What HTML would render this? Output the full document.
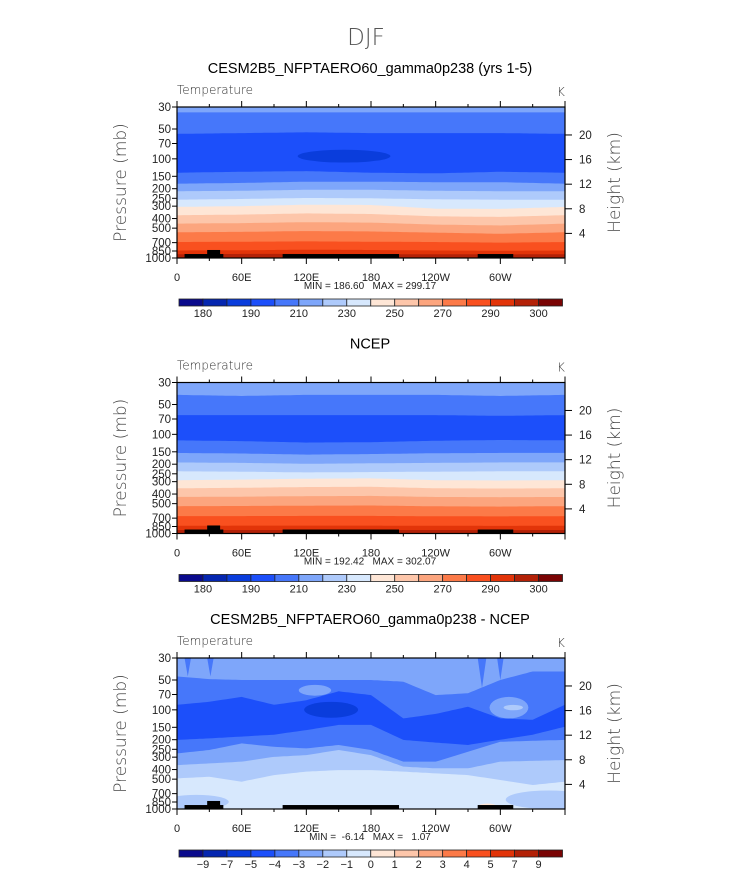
<!DOCTYPE html>
<html><head><meta charset="utf-8"><style>
html,body{margin:0;padding:0;background:#fff;}
svg{display:block;font-family:"Liberation Sans",sans-serif;}
</style></head><body>
<svg id="fig" width="733" height="873" viewBox="0 0 733 873" xmlns="http://www.w3.org/2000/svg">
<text x="366" y="45" font-size="23" text-anchor="middle" fill="#555" style="font-family:'DejaVu Sans','Liberation Sans',sans-serif;font-weight:200">DJF</text>
</svg>
<script>
// ---------- data ----------
const palette = ["#0a0a8c","#0526b0","#0a3ddc","#1c4ffa","#4677fa","#7ea6fa","#aecafb","#d7e8fd","#fee6d6","#fdc6aa","#fca57e","#fc7a48","#f9501f","#e23409","#b32107","#7a0404"];
const pressureTicks = [30,50,70,100,150,200,250,300,400,500,700,850,1000];
const heightTicks = [4,8,12,16,20];
const lonTicks = [0,60,120,180,240,300];
const lonTickLabels = ["0","60E","120E","180","120W","60W"];
const tempBarLabels = ["180","190","210","230","250","270","290","300"];
const diffBarLabels = ["-9","-7","-5","-4","-3","-2","-1","0","1","2","3","4","5","7","9"];
const panelTitles = ["CESM2B5_NFPTAERO60_gamma0p238 (yrs 1-5)","NCEP","CESM2B5_NFPTAERO60_gamma0p238 - NCEP"];
const minMaxLabels = ["MIN = 186.60   MAX = 299.17","MIN = 192.42   MAX = 302.07","MIN =  -6.14   MAX =   1.07"];
// panel 1 & 2 : boundary pressures at lon nodes
const bandLons = [0,60,120,180,240,300,360];
const p1Colors = [5,4,3,4,5,6,7,8,9,10,11,12,13,14];
const p1Bounds = [
 [34,34,34,34,34,34,34],[56,55,54,55,55,55,56],[138,135,133,138,140,135,138],
 [178,175,170,170,172,172,178],[212,210,205,205,210,212,212],[258,254,248,250,256,258,258],
 [305,300,290,292,318,320,305],[370,365,355,360,380,385,370],[450,445,435,440,460,470,450],
 [550,545,535,540,555,570,550],[690,685,680,685,690,700,690],[840,835,825,830,840,845,840],
 [915,910,910,915,915,920,915]];
const p1Blobs = [[155,43,81,109,2]];
const p2Colors = [5,4,3,4,5,6,7,8,9,10,11,12,13,14];
const p2Bounds = [
 [40,41,40,40,40,41,40],[64,64,64,64,64,65,64],[115,117,121,120,116,114,115],
 [154,156,160,158,155,154,154],[192,194,198,196,194,192,192],[236,238,242,240,238,236,236],
 [290,286,280,278,290,292,290],[350,346,340,338,350,352,350],[428,425,420,418,428,430,428],
 [530,528,524,522,532,535,530],[668,667,665,665,670,672,668],[835,833,832,833,835,838,835],
 [922,922,922,922,922,924,922]];
const p2Blobs = [];
// panel 3 (difference)
const diffLons = [0,30,60,90,120,150,180,210,240,270,300,330,360];
const p3Colors = [5,4,3,4,5,6,7];
const p3Bounds = [
 [46,49,50,50,50,50,50,52,71,68,50,41,41],
 [89,83,74,89,80,65,71,122,110,93,122,126,89],
 [201,194,186,178,160,142,142,201,214,226,200,178,148],
 [275,254,218,236,245,226,254,333,333,265,210,205,201],
 [361,347,333,298,286,254,286,374,389,389,333,327,321],
 [491,473,530,455,420,405,405,420,437,455,510,573,530]];
const p3Blobs = [[128,15,56,72,5],[143,25,83,120,2],[308,18,74,122,5],[312,9,89,101,6],
 [345,40,650,1000,6],[18,30,720,1000,6],[288,8,880,1000,8]];
// downward spikes in panel 3: [lonCenter, halfWidth, bottomPressure, colorIdx]
const p3Spikes = [[10,3,46,4],[31,3,46,4],[283,4,60,4],[300,3,50,4]];
// topography: [lonStart, lonEnd, topPressure]
const topo = [[7,43,912],[28,40,830],[98,206,912],[279,312,912]];

// ---------- helpers ----------
const svg = document.getElementById('fig');
const NS = "http://www.w3.org/2000/svg";
const X0 = 177, X1 = 565, PH = 151;
const panelTops = [107, 382.5, 658];
const barTops = [299, 574.5, 850];
function xLon(l){ return X0 + (X1-X0)*l/360; }
function yP(top,p){ return top + PH*Math.log(p/30)/Math.log(1000/30); }
function mk(tag, attrs, parent){ const e=document.createElementNS(NS,tag); for(const k in attrs) e.setAttribute(k,attrs[k]); (parent||svg).appendChild(e); return e; }
function interp(lons, vals, l){ for(let i=0;i<lons.length-1;i++){ if(l<=lons[i+1]){ const t=(l-lons[i])/(lons[i+1]-lons[i]); return Math.exp(Math.log(vals[i])*(1-t)+Math.log(vals[i+1])*t);} } return vals[vals.length-1]; }

function drawPanel(k, lons, colors, bounds, blobs, spikes, barLabels, labelEvery){
  const top = panelTops[k], bot = top+PH;
  const g = mk('g',{});
  
  
  const clipId='clip'+k;
  const cp = mk('clipPath',{id:clipId},g); mk('rect',{x:X0,y:top,width:X1-X0,height:PH},cp);
  const field = mk('g',{'clip-path':'url(#'+clipId+')'},g);
  
  
  const bg = mk('rect',{x:X0,y:top,width:X1-X0,height:PH,fill:palette[colors[0]]},field);
  
  
  bounds.forEach((b,i)=>{
    let d='M'+X0+','+(bot+2);
    for(let l=0;l<=360;l+=3){ d+=' L'+xLon(l).toFixed(1)+','+yP(top,interp(lons,b,l)).toFixed(1); }
    d+=' L'+X1+','+(bot+2)+' Z';
    const pth = mk('path',{d:d,fill:palette[colors[i+1]]},field);
    
    
  });
  spikes.forEach(s=>{
    const d='M'+xLon(s[0]-s[1])+','+top+' L'+xLon(s[0])+','+yP(top,s[2])+' L'+xLon(s[0]+s[1])+','+top+' Z';
    const pth = mk('path',{d:d,fill:palette[s[3]]},field);
    
    
  });
  blobs.forEach(bl=>{
    const y1=yP(top,bl[2]), y2=yP(top,bl[3]);
    const el = mk('ellipse',{cx:xLon(bl[0]),cy:(y1+y2)/2,rx:(X1-X0)*bl[1]/360,ry:(y2-y1)/2,fill:palette[bl[4]]},field);
    
    
  });
  topo.forEach(t=>{
    const r = mk('rect',{x:xLon(t[0]),y:yP(top,t[2]),width:xLon(t[1])-xLon(t[0]),height:bot-yP(top,t[2])+1,fill:'#000'},field);
    
    
  });
  const frame = mk('rect',{x:X0,y:top,width:X1-X0,height:PH,fill:'none',stroke:'#000','stroke-width':1.2},g);
  
  
  for(let l=0;l<=360;l+=30){
    const major = l%60===0, len = major?6:3;
    mk('line',{x1:xLon(l),x2:xLon(l),y1:top,y2:top-len,stroke:'#000','stroke-width':1},g);
    mk('line',{x1:xLon(l),x2:xLon(l),y1:bot,y2:bot+len,stroke:'#000','stroke-width':1},g);
  }
  lonTicks.forEach((l,i)=>{
    const t = mk('text',{x:xLon(l),y:bot+23,'font-size':11,'text-anchor':'middle',fill:'#222'},g);
    t.textContent = lonTickLabels[i];
    
    
  });
  pressureTicks.forEach(p=>{
    const y=yP(top,p);
    mk('line',{x1:X0,x2:X0-5,y1:y,y2:y,stroke:'#000','stroke-width':1},g);
    const t = mk('text',{x:X0-6,y:y+4,'font-size':11.5,'text-anchor':'end',fill:'#222'},g);
    t.textContent = p;
    
    
  });
  heightTicks.forEach(z=>{
    const y=yP(top,1000*Math.exp(-z/7));
    mk('line',{x1:X1,x2:X1+7,y1:y,y2:y,stroke:'#000','stroke-width':1},g);
    const t = mk('text',{x:X1+14,y:y+4,'font-size':11.5,fill:'#222'},g);
    t.textContent = z;
    
    
  });
  const yt = mk('text',{x:0,y:0,'font-size':17,'text-anchor':'middle',fill:'#444',transform:'translate(126,'+(top+PH/2)+') rotate(-90)',style:"font-family:'DejaVu Sans',sans-serif;font-weight:200"},g);
  yt.textContent='Pressure  (mb)';
  
  
  const rt = mk('text',{x:0,y:0,'font-size':17,'text-anchor':'middle',fill:'#444',transform:'translate(620,'+(top+PH/2)+') rotate(-90)',style:"font-family:'DejaVu Sans',sans-serif;font-weight:200"},g);
  rt.textContent='Height  (km)';
  
  
  const vt = mk('text',{x:X0,y:top-13,'font-size':12,fill:'#333',style:"font-family:'DejaVu Sans',sans-serif;font-weight:200"},g);
  vt.textContent='Temperature';
  
  
  const ut = mk('text',{x:557,y:top-11,'font-size':12,fill:'#333',style:"font-family:'DejaVu Sans',sans-serif;font-weight:200"},g);
  ut.textContent='K';
  
  
  const tt = mk('text',{x:370,y:top-34,'font-size':14.5,'text-anchor':'middle',fill:'#000'},g);
  tt.textContent=panelTitles[k];
  
  
  const mm = mk('text',{x:370,y:bot+31,'font-size':10,'text-anchor':'middle',fill:'#222',style:'white-space:pre'},g);
  mm.textContent=minMaxLabels[k];
  
  
  const cb = mk('g',{},g);
  
  
  const bx0=179, bw=(562.5-179)/16, by=barTops[k];
  palette.forEach((c,i)=>{
    const r = mk('rect',{x:bx0+i*bw,y:by,width:bw,height:7,fill:c,stroke:'#222','stroke-width':0.8},cb);
    
    
  });
  barLabels.forEach((s,i)=>{
    const idx = labelEvery===2 ? 1+2*i : 1+i;
    const t = mk('text',{x:bx0+idx*bw,y:by+18,'font-size':11,'text-anchor':'middle',fill:'#222'},cb);
    t.textContent = s.replace('-','\u2212');
    
    
  });
}
drawPanel(0,bandLons,p1Colors,p1Bounds,p1Blobs,[],tempBarLabels,2);
drawPanel(1,bandLons,p2Colors,p2Bounds,p2Blobs,[],tempBarLabels,2);
drawPanel(2,diffLons,p3Colors,p3Bounds,p3Blobs,p3Spikes,diffBarLabels,1);
</script>
</body></html>
